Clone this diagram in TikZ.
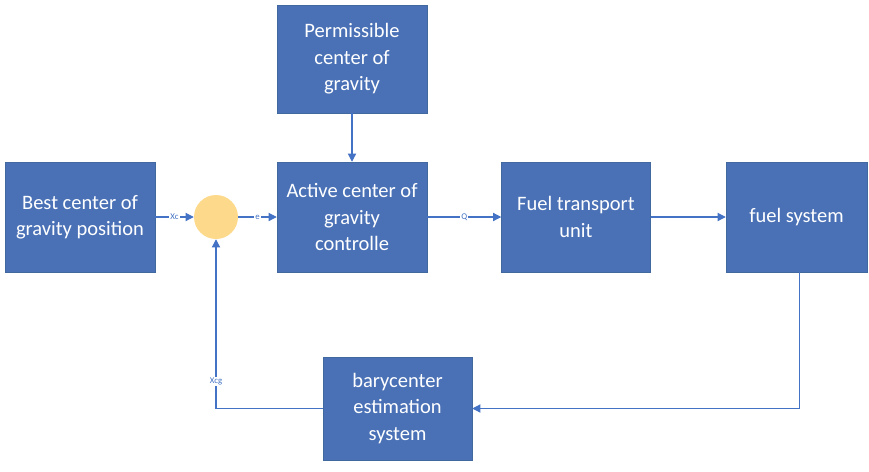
\documentclass[tikz,border=0pt]{standalone}
\usepackage{fontspec}
\setmainfont{Carlito}
\usetikzlibrary{arrows.meta}
\definecolor{boxblue}{HTML}{4A71B6}
\definecolor{edgeblue}{HTML}{41689F}
\definecolor{sumyellow}{HTML}{FDDA8B}
\definecolor{lineblue}{HTML}{4472C4}
\tikzset{
	block/.style={draw=edgeblue, line width=0.4pt, fill=boxblue, text=white, align=center, font=\fontsize{17.5}{22.5}\selectfont, minimum width=4.5cm, minimum height=3.3cm, inner sep=2pt},
	sumnode/.style={circle, fill=sumyellow, minimum size=1.32cm, inner sep=0pt},
	flow/.style={draw=lineblue, line width=1pt, -{Triangle[length=7pt,width=7pt]}},
	sig/.style={fill=white, text=lineblue, font=\fontsize{7.5}{8}\selectfont, inner sep=1pt}
}
\begin{document}
\begin{tikzpicture}[x=0.03cm, y=-0.03cm]
	%%%%% START %%%%%
	\useasboundingbox (0, 0) rectangle (869, 471);
	
	\node[block] (best) at (80, 217) {Best center of\\gravity position};
	\node[sumnode] (sum) at (216, 217) {};
	\node[block] (active) at (352, 217) {Active center of\\gravity\\controlle};
	\node[block, minimum height=3.24cm] (perm) at (352, 59) {Permissible\\center of\\gravity};
	\node[block, minimum width=4.47cm] (transport) at (576, 217) {Fuel transport\\unit};
	\node[block, minimum width=4.23cm] (fuel) at (796.5, 217) {fuel system};
	\node[block, minimum width=4.47cm, minimum height=3.09cm] (bary) at (397.5, 408.5) {barycenter\\estimation\\system};
	
	\draw[flow] (best) -- node[sig] {Xc} (sum);
	\draw[flow] (sum) -- node[sig] {e} (active);
	\draw[flow] (active) -- node[sig] {Q} (transport);
	\draw[flow] (transport) -- (fuel);
	\draw[flow] (perm) -- (active);
	\draw[flow] ([xshift=0.1cm]fuel.south) |- (bary.east);
	\draw[flow] (bary.west) -| node[sig, pos=0.58] {Xcg} (sum.south);
	
	%%%%% END %%%%%
\end{tikzpicture}
\end{document}
